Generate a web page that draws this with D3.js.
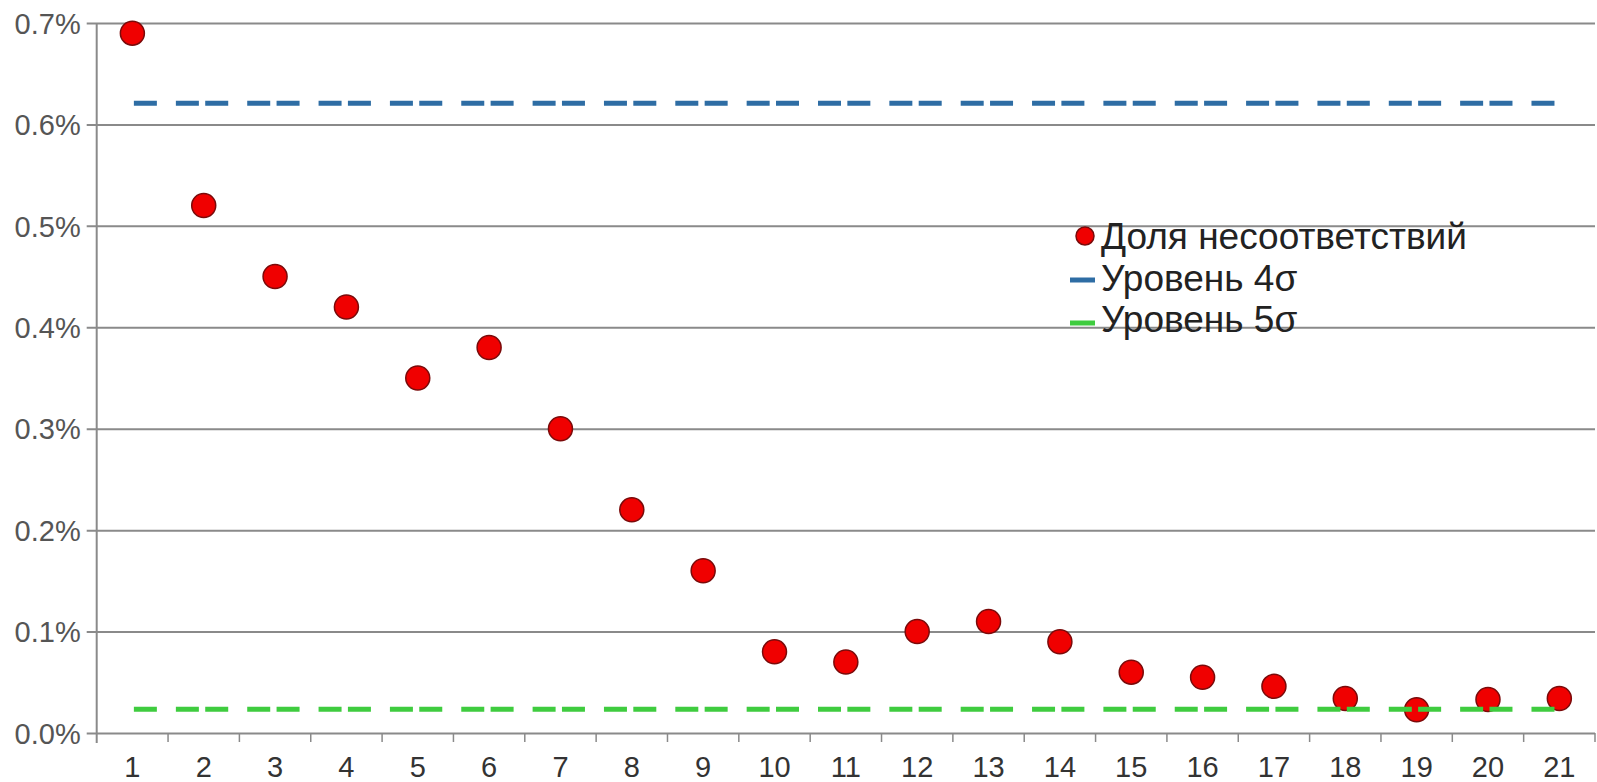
<!DOCTYPE html>
<html>
<head>
<meta charset="utf-8">
<script src="https://cdn.jsdelivr.net/npm/d3@7"></script>
<style>
  body { margin: 0; background: #fff; }
  svg { display: block; font-family: "Liberation Sans", Arial, sans-serif; }
</style>
</head>
<body>
<svg id="chart" width="1597" height="782"></svg>
<script>
// samples 1..21 and share of nonconforming items, in percent
const samples = d3.range(1, 22).map(String);
const defectShare = [0.69, 0.52, 0.45, 0.42, 0.35, 0.38, 0.30, 0.22, 0.16, 0.08, 0.07,
                     0.10, 0.11, 0.09, 0.06, 0.055, 0.046, 0.034, 0.023, 0.033, 0.034];
const level4Sigma = 0.621;
const level5Sigma = 0.0233;
const yTicks = [0, 0.1, 0.2, 0.3, 0.4, 0.5, 0.6, 0.7];
const legendLabels = ["Доля несоответствий", "Уровень 4σ", "Уровень 5σ"];

const colPoint = "#f00000", colPointEdge = "#7a0a0a";
const col4 = "#2e6da4", col5 = "#3fcc3f";

const svg = d3.select("#chart");
const m = { left: 96.7, right: 1595, top: 23, bottom: 733 };

const x = d3.scaleBand().domain(samples).range([m.left, m.right]);
const y = d3.scaleLinear().domain([0, 0.7]).range([m.bottom, m.top]);

// gridlines + y labels
const yAxis = svg.append("g")
    .attr("transform", `translate(${m.left},0)`)
    .call(d3.axisLeft(y).tickValues(yTicks).tickSize(-(m.right - m.left)).tickSizeOuter(0)
        .tickFormat(d => d.toFixed(1) + "%"));
yAxis.select(".domain").remove();
yAxis.selectAll(".tick line")
    .attr("x1", -10)
    .attr("stroke", "#8a8a8a")
    .attr("stroke-width", 2);
yAxis.selectAll(".tick text")
    .attr("x", -16)
    .attr("dy", "0.35em")
    .attr("fill", "#555")
    .style("font-size", "29px");

// y axis line
svg.append("line")
    .attr("x1", m.left).attr("x2", m.left)
    .attr("y1", m.top).attr("y2", m.bottom + 10)
    .attr("stroke", "#8a8a8a").attr("stroke-width", 2);

// x axis, ticks at band edges
const xAxis = svg.append("g")
    .attr("transform", `translate(0,${m.bottom})`)
    .call(d3.axisBottom(x).tickSize(0));
xAxis.select(".domain").remove();
xAxis.selectAll(".tick text")
    .attr("y", 0)
    .attr("dy", "44px")
    .attr("fill", "#333")
    .style("font-size", "29px");

svg.append("g")
    .selectAll("line")
    .data(samples.slice(1).concat(["end"]))
    .join("line")
    .attr("x1", d => d === "end" ? m.right : x(d))
    .attr("x2", d => d === "end" ? m.right : x(d))
    .attr("y1", m.bottom).attr("y2", m.bottom + 9)
    .attr("stroke", "#8a8a8a").attr("stroke-width", 1.5);

// points
svg.append("g")
    .selectAll("circle")
    .data(defectShare)
    .join("circle")
    .attr("cx", (d, i) => x(samples[i]) + x.bandwidth() / 2)
    .attr("cy", d => y(d))
    .attr("r", 12)
    .attr("fill", colPoint)
    .attr("stroke", colPointEdge)
    .attr("stroke-width", 1.5);

// sigma levels, drawn over the points
const step = x.step();
const dash = `${23},${19},${23},${step - 65}`;
const cx0 = x(samples[0]) + x.bandwidth() / 2;
const cx1 = x(samples[samples.length - 1]) + x.bandwidth() / 2;
[[level4Sigma, col4], [level5Sigma, col5]].forEach(([v, c]) => {
    svg.append("line")
        .attr("x1", cx0).attr("x2", cx1)
        .attr("y1", y(v)).attr("y2", y(v))
        .attr("stroke", c)
        .attr("stroke-width", 5)
        .attr("stroke-dasharray", dash)
        .attr("stroke-dashoffset", -1.5);
});

// legend
const lg = svg.append("g").attr("transform", "translate(1070,0)");
const rowY = [249, 291, 332];
lg.append("circle")
    .attr("cx", 15).attr("cy", 236).attr("r", 9)
    .attr("fill", colPoint).attr("stroke", colPointEdge).attr("stroke-width", 1.5);
lg.append("line").attr("x1", 0).attr("x2", 25)
    .attr("y1", 280).attr("y2", 280)
    .attr("stroke", col4).attr("stroke-width", 5);
lg.append("line").attr("x1", 0).attr("x2", 25)
    .attr("y1", 323).attr("y2", 323)
    .attr("stroke", col5).attr("stroke-width", 5);
lg.selectAll("text")
    .data(legendLabels)
    .join("text")
    .attr("x", 31)
    .attr("y", (d, i) => rowY[i])
    .attr("fill", "#222")
    .style("font-size", "37px")
    .text(d => d);
</script>
</body>
</html>
